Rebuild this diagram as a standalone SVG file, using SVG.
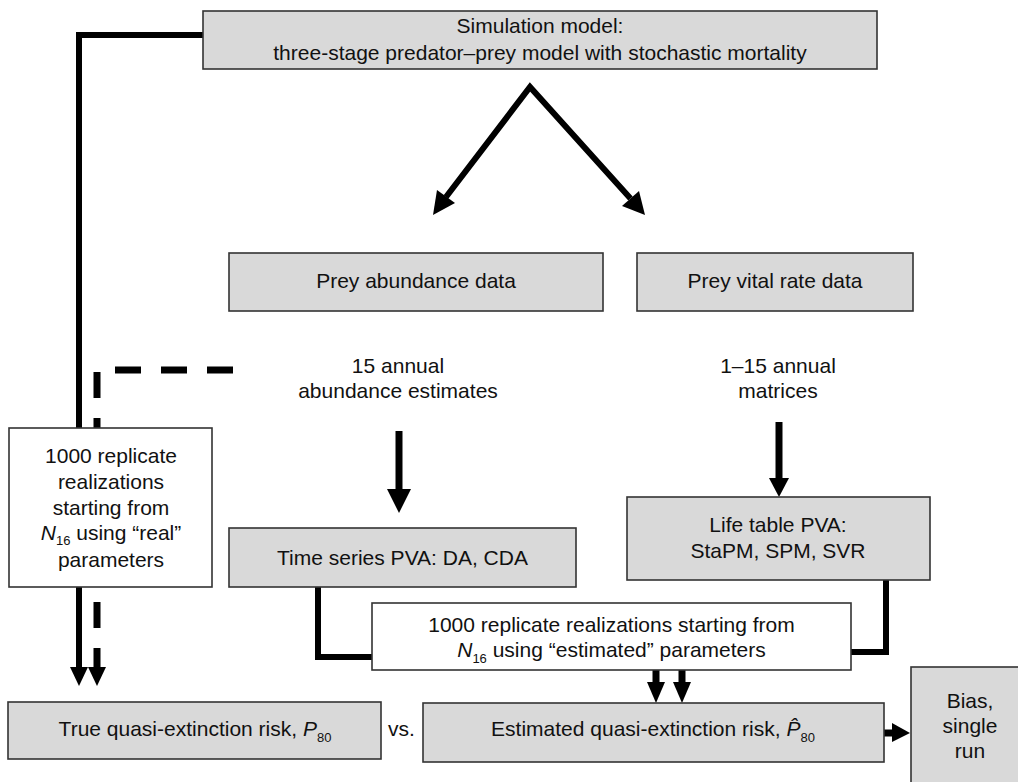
<svg xmlns="http://www.w3.org/2000/svg" width="1018" height="782" viewBox="0 0 1018 782">
<style>
.box{fill:#d9d9d9;stroke:#333;stroke-width:1.6}
.wbox{fill:#fff;stroke:#333;stroke-width:1.6}
text{font-family:"Liberation Sans",Arial,sans-serif;font-size:21px;fill:#111;text-anchor:middle}
.ln{fill:none;stroke:#000;stroke-width:6;stroke-linejoin:miter}
.thick{fill:none;stroke:#000;stroke-width:7}
.dash{fill:none;stroke:#000;stroke-width:7;stroke-dasharray:26 20}
.ah{fill:#000}
.sub{font-size:13px}
.it{font-style:italic}
</style>
<rect width="1018" height="782" fill="#fff"/>
<g id="connectors">
<path class="ln" d="M203,35 H79 V428"/>
<path class="ln" d="M79,587 V668"/>
<polygon class="ah" points="70,667 88,667 79,686"/>
<path class="dash" d="M233,370 H97 V668"/>
<polygon class="ah" points="88,667 106,667 97,686"/>
<polyline class="ln" points="446,197 530,87 630.5,198.5"/>
<polygon class="ah" points="433,215 455,203 437,190"/>
<polygon class="ah" points="645,215 622,206 639,191"/>
<path class="thick" d="M399,431 V490"/>
<polygon class="ah" points="387,489 411,489 399,513"/>
<path class="thick" d="M779,422 V479"/>
<polygon class="ah" points="769,478 789,478 779,497"/>
<path class="ln" d="M318,587 V657 H372"/>
<path class="ln" d="M886,580 V652 H851"/>
<path class="thick" d="M656,670 V683"/>
<polygon class="ah" points="647,682 665,682 656,703"/>
<path class="thick" d="M682,670 V683"/>
<polygon class="ah" points="673,682 691,682 682,703"/>
<path class="thick" d="M884,733 H893"/>
<polygon class="ah" points="892,723 892,742 910,733"/>
</g>
<g id="sim-model">
<rect class="box" x="203" y="11" width="674" height="58"/>
<text x="540" y="33">Simulation model:</text>
<text x="540" y="60">three-stage predator–prey model with stochastic mortality</text>
</g>
<g id="prey-abundance">
<rect class="box" x="229" y="253" width="374" height="58"/>
<text x="416" y="288">Prey abundance data</text>
</g>
<g id="prey-vital">
<rect class="box" x="637" y="253" width="276" height="58"/>
<text x="775" y="288">Prey vital rate data</text>
</g>
<g id="label-15-annual">
<text x="398" y="373">15 annual</text>
<text x="398" y="398">abundance estimates</text>
</g>
<g id="label-matrices">
<text x="778" y="373">1–15 annual</text>
<text x="778" y="398">matrices</text>
</g>
<g id="real-realizations">
<rect class="wbox" x="9" y="428" width="203" height="159"/>
<text x="111" y="463">1000 replicate</text>
<text x="111" y="489">realizations</text>
<text x="111" y="515">starting from</text>
<text x="111" y="540"><tspan class="it">N</tspan><tspan class="sub" dy="5">16</tspan><tspan dy="-5"> using “real”</tspan></text>
<text x="111" y="567">parameters</text>
</g>
<g id="time-series">
<rect class="box" x="229" y="528" width="347" height="59"/>
<text x="402.5" y="565">Time series PVA: DA, CDA</text>
</g>
<g id="life-table">
<rect class="box" x="627" y="497" width="303" height="83"/>
<text x="778" y="532">Life table PVA:</text>
<text x="778" y="558">StaPM, SPM, SVR</text>
</g>
<g id="est-realizations">
<rect class="wbox" x="372" y="603" width="479" height="67"/>
<text x="611.5" y="632">1000 replicate realizations starting from</text>
<text x="611.5" y="657"><tspan class="it">N</tspan><tspan class="sub" dy="6">16</tspan><tspan dy="-6"> using “estimated” parameters</tspan></text>
</g>
<g id="true-risk">
<rect class="box" x="8" y="702" width="373" height="57"/>
<text x="195" y="736">True quasi-extinction risk, <tspan class="it">P</tspan><tspan class="sub" dy="6">80</tspan></text>
</g>
<g id="vs">
<text x="401.5" y="736">vs.</text>
</g>
<g id="est-risk">
<rect class="box" x="423" y="703" width="461" height="59"/>
<text x="653" y="736">Estimated quasi-extinction risk, <tspan class="it">P̂</tspan><tspan class="sub" dy="6">80</tspan></text>
</g>
<g id="bias">
<rect class="box" x="911" y="667" width="120" height="130"/>
<text x="970" y="708">Bias,</text>
<text x="970" y="733">single</text>
<text x="970" y="758">run</text>
</g>
</svg>
